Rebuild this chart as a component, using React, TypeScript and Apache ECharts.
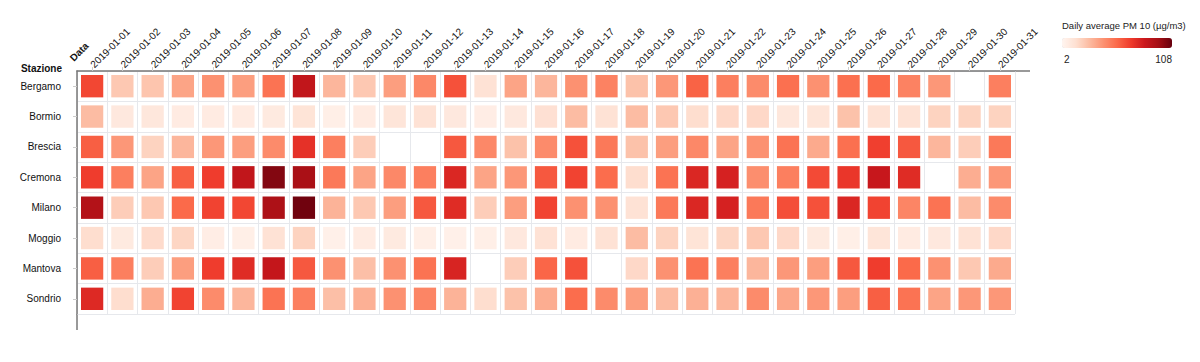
import React, { useEffect, useRef } from "react";
import * as echarts from "echarts";

const stations = ["Bergamo", "Bormio", "Brescia", "Cremona", "Milano", "Moggio", "Mantova", "Sondrio"];
const dates = [
  "2019-01-01", "2019-01-02", "2019-01-03", "2019-01-04", "2019-01-05", "2019-01-06", "2019-01-07", "2019-01-08",
  "2019-01-09", "2019-01-10", "2019-01-11", "2019-01-12", "2019-01-13", "2019-01-14", "2019-01-15", "2019-01-16",
  "2019-01-17", "2019-01-18", "2019-01-19", "2019-01-20", "2019-01-21", "2019-01-22", "2019-01-23", "2019-01-24",
  "2019-01-25", "2019-01-26", "2019-01-27", "2019-01-28", "2019-01-29", "2019-01-30", "2019-01-31",
];

const bergamo = [65, 24, 25, 36, 42, 38, 52, 85, 30, 24, 38, 45, 62, 14, 36, 30, 42, 47, 26, 40, 57, 48, 44, 53, 42, 53, 55, 47, 40, null, 48];
const bormio = [28, 10, 11, 8, 8, 8, 9, 13, 6, 8, 12, 14, 10, 7, 10, 15, 28, 14, 28, 24, 16, 18, 18, 11, 12, 26, 14, 14, 20, 20, 20];
const brescia = [58, 40, 20, 30, 40, 38, 44, 72, 48, 22, null, null, 60, 45, 26, 44, 62, 50, 26, 38, 45, 36, 42, 52, 34, 53, 67, 60, 30, 22, 50];
const cremona = [68, 48, 36, 58, 68, 85, 102, 93, 50, 36, 45, 48, 76, 36, 40, 60, 66, 54, 16, 52, 76, 78, 43, 48, 64, 70, 83, 74, null, 33, 40];
const milano = [90, 22, 24, 55, 66, 65, 92, 106, 31, 24, 38, 60, 74, 22, 38, 66, 42, 42, 14, 50, 76, 78, 50, 63, 62, 76, 66, 46, 52, 28, 44];
const moggio = [16, 9, 17, 19, 7, 6, 14, 20, 5, 8, 9, 6, 5, 6, 10, 14, 8, 14, 28, 20, 13, 19, 24, 18, 9, 6, 12, 8, 10, 14, 18];
const mantova = [58, 48, 22, 38, 68, 74, 84, 60, 42, 27, 42, 52, 77, null, 22, 56, 62, null, 18, 42, 52, 48, 30, 40, 38, 60, 68, 55, 42, 24, 34];
const sondrio = [75, 16, 33, 66, 44, 30, 52, 48, 27, 32, 42, 46, 31, 16, 26, 33, 54, 44, 38, 28, 32, 30, 44, 35, 40, 38, 58, 52, 36, 40, 40];

const valuesByStation = [bergamo, bormio, brescia, cremona, milano, moggio, mantova, sondrio];
const minValue = 2;
const maxValue = 108;
const reds = ["#fff5f0", "#fee0d2", "#fcbba1", "#fc9272", "#fb6a4a", "#ef3b2c", "#cb181d", "#a50f15", "#67000d"];

const FONT = "'Liberation Sans', Arial, Helvetica, sans-serif";

export default function App() {
  const ref = useRef<HTMLDivElement>(null);
  useEffect(() => {
    document.body.style.margin = "0";
    if (!ref.current) return;
    const chart = echarts.init(ref.current, null, { renderer: "svg" });
    const data: any[] = [];
    valuesByStation.forEach((vals, yi) => {
      vals.forEach((v, xi) => {
        if (v !== null) data.push([xi, yi, v]);
      });
    });
    const gL = 77, gT = 71, gW = 938, gH = 243;
    chart.setOption({
      animation: false,
      textStyle: { fontFamily: FONT },
      grid: { left: gL, top: gT, width: gW, height: gH, containLabel: false },
      xAxis: {
        type: "category",
        position: "top",
        data: dates,
        axisLine: { show: true, lineStyle: { color: "#777", width: 1.5 } },
        axisTick: { show: true, alignWithLabel: true, length: 4, lineStyle: { color: "#ccc" } },
        axisLabel: { rotate: -45, fontSize: 10, color: "#111", margin: 5, fontFamily: FONT },
        splitLine: { show: true, lineStyle: { color: "#e6e8ec", width: 1 } },
      },
      yAxis: {
        type: "category",
        inverse: true,
        data: stations,
        axisLine: { show: true, lineStyle: { color: "#777", width: 1.5 } },
        axisTick: { show: true, alignWithLabel: true, length: 4, lineStyle: { color: "#ccc" } },
        axisLabel: { fontSize: 10, color: "#111", margin: 16, fontFamily: FONT },
        splitLine: { show: true, lineStyle: { color: "#e6e8ec", width: 1 } },
      },
      visualMap: {
        type: "continuous",
        min: minValue,
        max: maxValue,
        dimension: 2,
        seriesIndex: 0,
        orient: "horizontal",
        left: 1062,
        top: 38,
        padding: 0,
        itemWidth: 10,
        itemHeight: 110,
        calculable: false,
        showLabel: false,
        inRange: { color: reds },
      },
      graphic: [
        { type: "line", shape: { x1: gL + gW, y1: gT, x2: 1030, y2: gT }, style: { stroke: "#777", lineWidth: 1.5 } },
        { type: "line", shape: { x1: gL, y1: gT + gH, x2: gL, y2: 330 }, style: { stroke: "#777", lineWidth: 1.5 } },
        {
          type: "text",
          x: 75,
          y: 63,
          z: 100,
          rotation: Math.PI / 4,
          style: { text: "Data", font: `bold 10px ${FONT}`, fill: "#111", textAlign: "left", textVerticalAlign: "bottom" },
        },
        {
          type: "text",
          x: 62,
          y: 68,
          style: { text: "Stazione", font: `bold 10px ${FONT}`, fill: "#111", textAlign: "right", textVerticalAlign: "middle" },
        },
        {
          type: "text",
          x: 1062,
          y: 25,
          style: { text: "Daily average PM 10 (µg/m3)", font: `9.5px ${FONT}`, fill: "#222", textAlign: "left", textVerticalAlign: "middle" },
        },
        {
          type: "text",
          x: 1064,
          y: 59,
          style: { text: String(minValue), font: `10px ${FONT}`, fill: "#222", textAlign: "left", textVerticalAlign: "middle" },
        },
        {
          type: "text",
          x: 1172,
          y: 59,
          style: { text: String(maxValue), font: `10px ${FONT}`, fill: "#222", textAlign: "right", textVerticalAlign: "middle" },
        },
      ],
      series: [
        {
          type: "custom",
          encode: { x: 0, y: 1 },
          data,
          renderItem: (params: any, api: any) => {
            const c = api.coord([api.value(0), api.value(1)]);
            const s = api.size([1, 1]);
            const w = s[0] - 8;
            const h = s[1] - 8;
            return {
              type: "rect",
              shape: { x: c[0] - w / 2, y: c[1] - h / 2, width: w, height: h },
              style: { fill: api.visual("color") },
            };
          },
        },
      ],
    });
    return () => chart.dispose();
  }, []);
  return <div ref={ref} style={{ width: 1200, height: 362 }} />;
}
